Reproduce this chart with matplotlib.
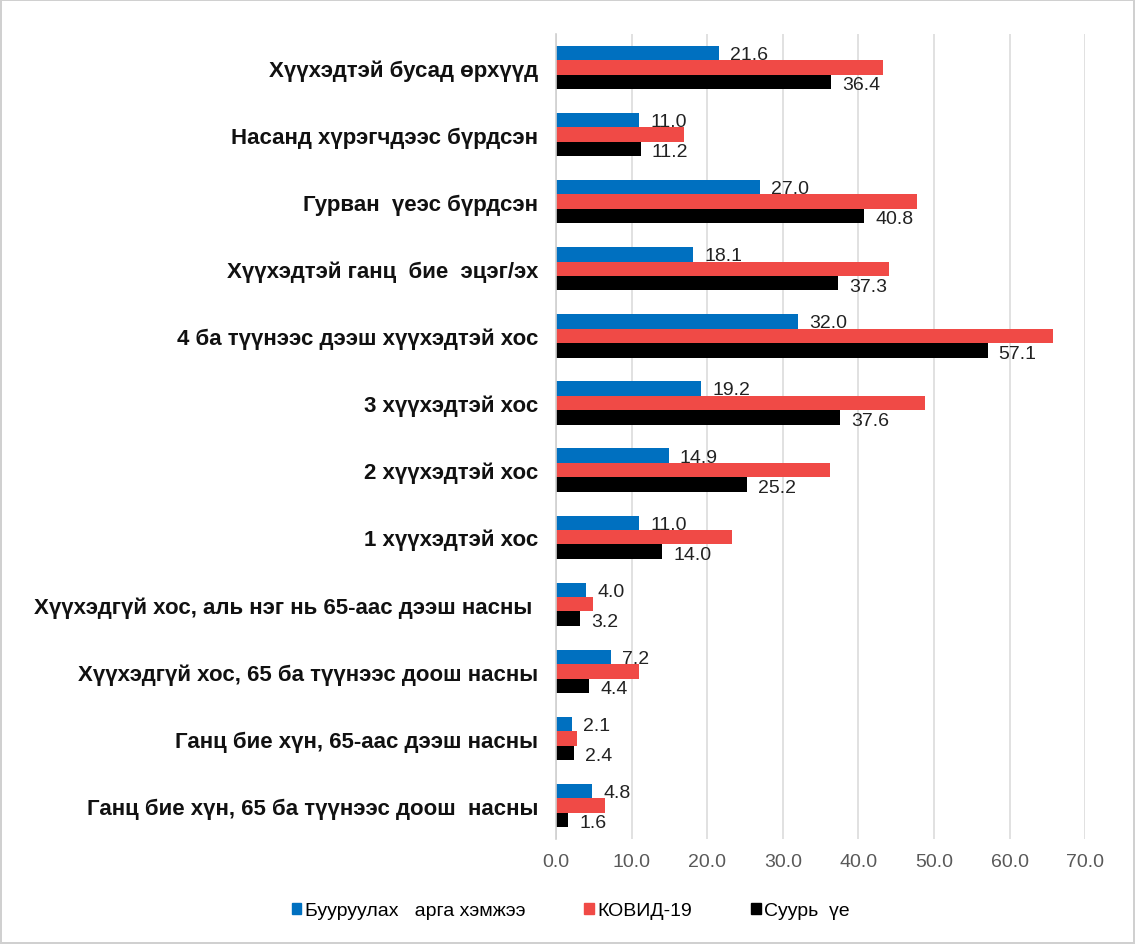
import numpy as np
import matplotlib.pyplot as plt
from matplotlib.patches import Patch

plt.rcParams['font.family'] = ['Liberation Sans', 'DejaVu Sans']

categories = [
    "Хүүхэдтэй бусад өрхүүд",
    "Насанд хүрэгчдээс бүрдсэн",
    "Гурван  үеэс бүрдсэн",
    "Хүүхэдтэй ганц  бие  эцэг/эх",
    "4 ба түүнээс дээш хүүхэдтэй хос",
    "3 хүүхэдтэй хос",
    "2 хүүхэдтэй хос",
    "1 хүүхэдтэй хос",
    "Хүүхэдгүй хос, аль нэг нь 65-аас дээш насны ",
    "Хүүхэдгүй хос, 65 ба түүнээс доош насны",
    "Ганц бие хүн, 65-аас дээш насны",
    "Ганц бие хүн, 65 ба түүнээс доош  насны",
]
mitigation = [21.6, 11.0, 27.0, 18.1, 32.0, 19.2, 14.9, 11.0, 4.0, 7.2, 2.1, 4.8]
covid = [43.2, 16.9, 47.8, 44.1, 65.7, 48.8, 36.3, 23.3, 4.9, 11.0, 2.7, 6.4]
baseline = [36.4, 11.2, 40.8, 37.3, 57.1, 37.6, 25.2, 14.0, 3.2, 4.4, 2.4, 1.6]
series_names = ["Бууруулах   арга хэмжээ", "КОВИД-19", "Суурь  үе"]

c_blue = "#0070c0"
c_red = "#f04a46"
c_black = "#000000"

fig = plt.figure(figsize=(11.35, 9.45), dpi=100)
fig.patch.set_edgecolor("#d0d0d0")
fig.patch.set_linewidth(1.5)
ax = fig.add_axes([0.490, 0.111, 0.466, 0.852])

y = np.arange(len(categories))
h = 0.215

b1 = ax.barh(y - h, mitigation, height=h, color=c_blue)
b2 = ax.barh(y, covid, height=h, color=c_red)
b3 = ax.barh(y + h, baseline, height=h, color=c_black)

for rect, v in zip(b1, mitigation):
    ax.annotate(f"{v:.1f}", (rect.get_width(), rect.get_y() + rect.get_height() / 2),
                xytext=(8, -1), textcoords="offset points", va="center", ha="left",
                fontsize=14, color="#222222")
for rect, v in zip(b3, baseline):
    ax.annotate(f"{v:.1f}", (rect.get_width(), rect.get_y() + rect.get_height() / 2),
                xytext=(8, -2), textcoords="offset points", va="center", ha="left",
                fontsize=14, color="#222222")

ax.set_ylim(len(categories) - 0.5, -0.5)
ax.set_xlim(0, 70)
ax.set_xticks(np.arange(0, 71, 10))
ax.set_xticklabels([f"{t:.1f}" for t in np.arange(0, 71, 10)], fontsize=14, color="#595959")
ax.set_yticks(y)
ax.set_yticklabels(categories, fontsize=16, fontweight="bold", color="#111111")
ax.tick_params(axis="y", length=0, pad=13)
ax.tick_params(axis="x", length=0, pad=10)

ax.grid(axis="x", color="#dcdcdc", linewidth=1.2)
ax.set_axisbelow(True)
for s in ["top", "right", "bottom"]:
    ax.spines[s].set_visible(False)
ax.spines["left"].set_color("#d0d0d0")
ax.spines["left"].set_linewidth(1.2)

handles = [Patch(color=c_blue), Patch(color=c_red), Patch(color=c_black)]
fig.legend(handles, series_names, loc="center", bbox_to_anchor=(0.503, 0.035),
           ncol=3, frameon=False, fontsize=14, handlelength=0.5, handleheight=0.5,
           handletextpad=0.2, columnspacing=3.0)

fig.savefig("out.png", dpi=100)
